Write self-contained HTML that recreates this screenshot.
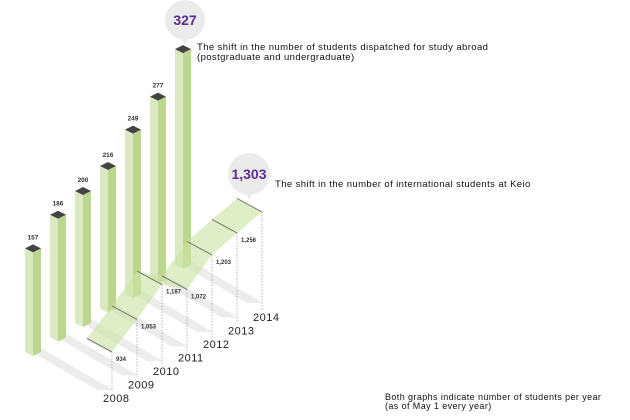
<!DOCTYPE html>
<html><head><meta charset="utf-8"><style>
html,body{margin:0;padding:0;background:#fff;}
svg{display:block;font-family:"Liberation Sans",Arial,sans-serif;}
</style></head><body>
<svg id="chart" width="630" height="420" viewBox="0 0 630 420"></svg>
<script>
const years = ["2008","2009","2010","2011","2012","2013","2014"];
const dispatched = [157,186,200,216,249,277,327];
const dispatchedLabels = ["157","186","200","216","249","277","327"];
const international = [934,1053,1187,1072,1203,1256,1303];
const internationalLabels = ["934","1,053","1,187","1,072","1,203","1,256","1,303"];

const NS="http://www.w3.org/2000/svg";
const svg=document.getElementById('chart');
function el(tag,attrs,parent){const e=document.createElementNS(NS,tag);for(const k in attrs)e.setAttribute(k,attrs[k]);(parent||svg).appendChild(e);return e;}

// axis functions
function barX(i){return 33+25*i;}
function barBase(i){return 352-14.5*i;}
function barTop(i,v){return barBase(i)-v*0.66;}
function ribX(i){return 112+25*i;}
function ribBase(i){return 392-13.5*i;}
function ribY(i,v){return ribBase(i)-(v-684)*0.16;}

// shadows
const gShadow=el('g',{});


for(let i=0;i<years.length;i++){
  const x=barX(i),y=barBase(i);
  const p=el('polygon',{points:`${x-8},${y-4} ${x+8},${y-4} ${x+8+72},${y+38} ${x-8+72},${y+38}`,fill:'#ececec'},gShadow);
  
  
}

// bars
for(let i=0;i<years.length;i++){
  const x=barX(i),b=barBase(i),t=barTop(i,dispatched[i]);
  const g=el('g',{});
  
  
  el('polygon',{points:`${x-8},${t} ${x},${t+4} ${x},${b+4} ${x-8},${b}`,fill:'#dbe9c2'},g);
  el('polygon',{points:`${x},${t+4} ${x+8},${t} ${x+8},${b} ${x},${b+4}`,fill:'#bdd68f'},g);
  el('polygon',{points:`${x-8},${t} ${x},${t-4} ${x+8},${t} ${x},${t+4}`,fill:'#444'},g);
  if(i<years.length-1){
    const tx=el('text',{x:x,y:t-9,'font-size':'6.5','font-weight':'bold','text-anchor':'middle',fill:'#333'});
    tx.textContent=dispatchedLabels[i];
    
    
  }
}

// ribbon
const gR=el('g',{});


for(let i=0;i<years.length-1;i++){
  const x1=ribX(i),y1=ribY(i,international[i]),x2=ribX(i+1),y2=ribY(i+1,international[i+1]);
  const p=el('polygon',{points:`${x1-25},${y1-13.5} ${x1},${y1} ${x2},${y2} ${x2-25},${y2-13.5}`,fill:'rgba(205,228,165,0.62)'},gR);
  
  
}
for(let i=0;i<years.length;i++){
  const x=ribX(i),y=ribY(i,international[i]);
  const l=el('line',{x1:x-25,y1:y-13.5,x2:x,y2:y,stroke:'#777','stroke-width':'1'},gR);
  
  
  const d=el('line',{x1:x,y1:y,x2:x,y2:ribBase(i)-1,stroke:'#999','stroke-width':'0.7','stroke-dasharray':'1.5,1.5'});
  
  
  if(i<years.length-1){
    const v=el('text',{x:x+4,y:y+9,'font-size':'6','font-weight':'bold',fill:'#333'});
    v.textContent=internationalLabels[i];
    
    
  }
  const yt=el('text',{x:x-9,y:ribBase(i)+10,'font-size':'11',fill:'#222','letter-spacing':'0.5'});
  yt.textContent=years[i];
  
  
}

// bubbles
function bubble(cx,cy,r,txt,name){
  const g=el('g',{});
  
  
  el('circle',{cx:cx,cy:cy,r:r,fill:'#ebebeb'},g);
  el('polygon',{points:`${cx-3},${cy+r-1} ${cx+3},${cy+r-1} ${cx},${cy+r+5}`,fill:'#ebebeb'},g);
  const t=el('text',{x:cx,y:cy+5,'font-size':'14','font-weight':'bold','text-anchor':'middle',fill:'#5b2d8e'},g);
  t.textContent=txt;
}
bubble(185,20,20,dispatchedLabels[6],'bubble-327');
bubble(249,174,21,internationalLabels[6],'bubble-1303');

function txt(x,y,s,name,size){
  const t=el('text',{x:x,y:y,'font-size':size||'9.5',fill:'#111','letter-spacing':'0.4'});
  t.textContent=s;
  
  
}
txt(197,50,'The shift in the number of students dispatched for study abroad','dispatched-title-line1');
txt(197,60,'(postgraduate and undergraduate)','dispatched-title-line2');
txt(275,187,'The shift in the number of international students at Keio','international-title');
txt(385,400,'Both graphs indicate number of students per year','footnote-line1','9');
txt(385,409,'(as of May 1 every year)','footnote-line2','9');
</script>
</body></html>
